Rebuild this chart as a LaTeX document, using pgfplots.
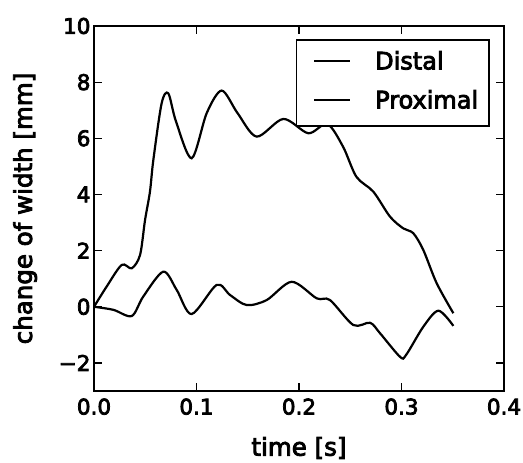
\documentclass[border=0pt]{standalone}
\usepackage{pgfplots}
\pgfplotsset{compat=1.18}
\usepackage{fontspec}
\setmainfont{DejaVu Sans}[FakeBold=3.5]
\begin{document}
\begin{tikzpicture}
\useasboundingbox (-94pt,-72pt) rectangle (429pt,391pt);
\begin{axis}[
    at={(0,0)}, anchor=south west,
    scale only axis,
    width=410pt, height=365pt,
    xmin=0, xmax=0.4, ymin=-3, ymax=10,
    xtick={0,0.1,0.2,0.3,0.4},
    xticklabels={0.0,0.1,0.2,0.3,0.4},
    ytick={-2,0,2,4,6,8,10},
    yticklabels={−2,0,2,4,6,8,10},
    tick align=inside,
    major tick length=8pt,
    every tick/.style={black, line width=1.3pt},
    axis line style={line width=1.8pt},
    tick label style={font=\fontsize{21.5}{24}\selectfont},
    xticklabel style={yshift=-4pt},
    xlabel={time [s]},
    ylabel={change of width [mm]},
    every axis x label/.style={at={(axis description cs:0.5,-0.156)}, anchor=center,
        font=\fontsize{24.5}{28}\selectfont},
    every axis y label/.style={at={(axis description cs:-0.168,0.5)}, anchor=center,
        rotate=90, font=\fontsize{24.5}{28}\selectfont},
    legend style={at={(0.966,0.964)}, anchor=north east,
        draw=black, line width=1.8pt, font=\fontsize{24}{28}\selectfont,
        inner xsep=11pt, inner ysep=4pt, row sep=0pt, column sep=0pt,
        nodes={inner sep=0pt}},
    legend cell align=left,
    legend image code/.code={
        \path[draw=none, fill=none] (-6.7pt,-22pt) rectangle (61pt,17pt);
        \draw[black, line width=1.8pt] (0pt,0pt) -- (36pt,0pt);},
]
\addplot[black, line width=2.2pt, smooth, tension=0.5] coordinates {
    (0.0,0.0) (0.012,0.7) (0.027,1.49) (0.0368,1.37) (0.0449,1.84)
    (0.0498,3.09) (0.0546,4.1) (0.0579,5.23) (0.066,7.25) (0.0725,7.60)
    (0.080,6.6) (0.0953,5.29) (0.110,6.9) (0.1246,7.70) (0.140,6.9)
    (0.1587,6.06) (0.1847,6.69) (0.2091,6.18) (0.2276,6.51) (0.243,5.70)
    (0.256,4.63) (0.2725,4.10) (0.2888,3.21) (0.3018,2.79) (0.3115,2.62)
    (0.3213,2.02) (0.3343,0.84) (0.3506,-0.23)
};
\addlegendentry{Distal}
\addplot[black, line width=2.2pt, smooth, tension=0.5] coordinates {
    (0.0,0.0) (0.019,-0.11) (0.0368,-0.33) (0.048,0.36) (0.0676,1.25)
    (0.0807,0.60) (0.0953,-0.26) (0.1197,0.78) (0.1327,0.42) (0.149,0.06)
    (0.1685,0.24) (0.1929,0.89) (0.2173,0.30) (0.2302,0.24) (0.253,-0.65)
    (0.2693,-0.57) (0.279,-0.94) (0.2985,-1.78) (0.3044,-1.72) (0.3213,-0.71)
    (0.336,-0.14) (0.3506,-0.68)
};
\addlegendentry{Proximal}
\end{axis}
\end{tikzpicture}
\end{document}
